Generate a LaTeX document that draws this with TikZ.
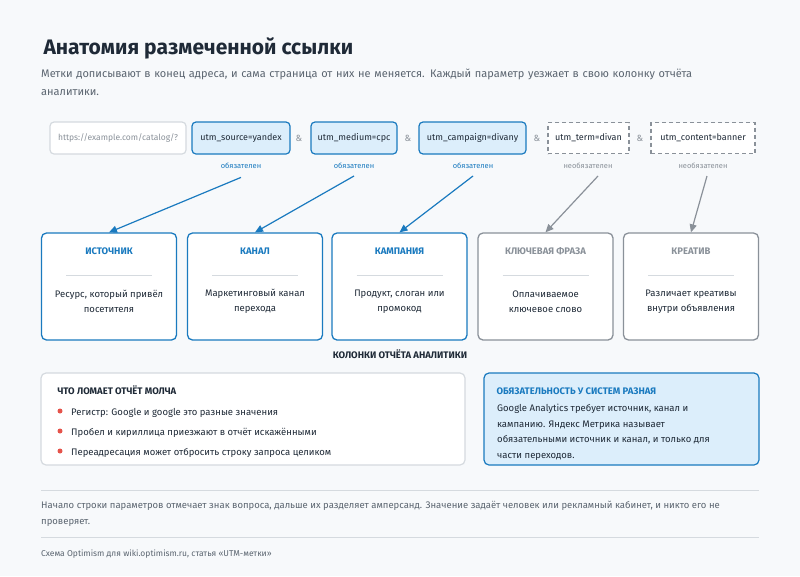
\documentclass[tikz,border=0pt]{standalone}
\usepackage{fontspec}
\setmainfont{Fira Sans}
\usetikzlibrary{arrows.meta}
\definecolor{bg}{HTML}{F7F9FB}
\definecolor{ink}{HTML}{1F2A37}
\definecolor{gr}{HTML}{5B6570}
\definecolor{bl}{HTML}{1A7ABF}
\definecolor{blf}{HTML}{DCEEFB}
\definecolor{gb}{HTML}{8A9199}
\definecolor{lb}{HTML}{D5DADF}
\definecolor{rd}{HTML}{E5534B}
\begin{document}
\begin{tikzpicture}[x=1pt,y=-1pt,
 req/.style={draw=bl,fill=blf,line width=1.2pt,rounded corners=4pt,font=\fontsize{9}{11}\selectfont,text=ink},
 opt/.style={draw=gb,fill=white,dashed,dash pattern=on 4pt off 3pt,line width=1.2pt,font=\fontsize{9}{11}\selectfont,text=ink},
 lab/.style={font=\fontsize{7.5}{9}\selectfont},
 amp/.style={font=\fontsize{9}{11}\selectfont,text=gb},
 arr/.style={-{Triangle[length=8pt,width=7pt]},line width=1.2pt},
 cat/.style={rounded corners=5pt,line width=1.3pt,fill=white},
 ttl/.style={font=\bfseries\fontsize{9.5}{11}\selectfont},
 body/.style={font=\fontsize{9.5}{15}\selectfont,text=ink,align=center}]
\fill[bg] (0,0) rectangle (800,576);
\node[anchor=base west,text=ink,font=\bfseries\fontsize{21}{25}\selectfont] (title) at (40,54) {Анатомия размеченной ссылки};
\node[anchor=base west,text=gr,font=\fontsize{11}{18}\selectfont,align=left,text width=730pt,inner sep=0] (sub) at (41,77) {Метки дописывают в конец адреса, и сама страница от них не меняется. Каждый параметр уезжает в свою колонку отчёта\\аналитики.};
% URL
\node[draw=lb,fill=white,line width=1.2pt,rounded corners=4pt,minimum width=136pt,minimum height=32pt,font=\fontsize{8.5}{10}\selectfont,text=gb] (u0) at (118,138) {https://example.com/catalog/?};
\node[req,minimum width=98pt,minimum height=32pt] (u1) at (241,138) {utm\_source=yandex};
\node[amp] (a1) at (299,138) {\&};
\node[req,minimum width=86pt,minimum height=32pt] (u2) at (354,138) {utm\_medium=cpc};
\node[amp] (a2) at (408,138) {\&};
\node[req,minimum width=107pt,minimum height=32pt] (u3) at (472.5,138) {utm\_campaign=divany};
\node[amp] (a3) at (537,138) {\&};
\node[opt,minimum width=81pt,minimum height=31pt] (u4) at (588.5,138) {utm\_term=divan};
\node[amp] (a4) at (640,138) {\&};
\node[opt,minimum width=104pt,minimum height=31pt] (u5) at (703,138) {utm\_content=banner};
\node[lab,text=bl] (l1) at (241,166) {обязателен};
\node[lab,text=bl] (l2) at (354,166) {обязателен};
\node[lab,text=bl] (l3) at (473,166) {обязателен};
\node[lab,text=gb] (l4) at (588,166) {необязателен};
\node[lab,text=gb] (l5) at (703,166) {необязателен};
% categories
\foreach \n/\x/\t/\b/\c in {c1/109/ИСТОЧНИК/{Ресурс, который привёл\\посетителя}/bl,
 c2/255/КАНАЛ/{Маркетинговый канал\\перехода}/bl,
 c3/399.5/КАМПАНИЯ/{Продукт, слоган или\\промокод}/bl,
 c4/545.5/КЛЮЧЕВАЯ ФРАЗА/{Оплачиваемое\\ключевое слово}/gb,
 c5/691/КРЕАТИВ/{Различает креативы\\внутри объявления}/gb}{
 \node[cat,draw=\c,minimum width=135pt,minimum height=107pt] (\n) at (\x,286.5) {};
 \node[ttl,text=\c] (\n t) at (\x,251) {\t};
 \draw[lb,line width=0.8pt] (\x-43,275) -- (\x+43,275);
 \node[body] (\n b) at (\x,301.5) {\b};
}
\draw[arr,bl] (l1.south) ++(0,5) coordinate (s1) -- (c1.north);
\draw[arr,bl] (354,176) coordinate (s2) -- (c2.north);
\draw[arr,bl] (473,176) coordinate (s3) -- (c3.north);
\draw[arr,gb] (598,176) coordinate (s4) -- (c4.north);
\draw[arr,gb] (707,176) coordinate (s5) -- (c5.north);
\node[ttl,text=ink] (cols) at (400,354) {КОЛОНКИ ОТЧЁТА АНАЛИТИКИ};
% bottom boxes
\node[draw=lb,fill=white,line width=1.2pt,rounded corners=5pt,minimum width=424pt,minimum height=92pt] (bx1) at (253,419) {};
\node[ttl,text=ink,anchor=base west] (bx1t) at (54,394) {ЧТО ЛОМАЕТ ОТЧЁТ МОЛЧА};
\foreach \y/\t in {415/{Регистр: Google и google это разные значения},435/{Пробел и кириллица приезжают в отчёт искажёнными},455/{Переадресация может отбросить строку запроса целиком}}{
 \fill[rd] (60,\y-4) circle (2.5pt);
 \node[anchor=base west,font=\fontsize{9.5}{11}\selectfont,text=ink,inner sep=0] at (71,\y) {\t};
}
\node[draw=bl,fill=blf,line width=1.2pt,rounded corners=5pt,minimum width=275pt,minimum height=92pt] (bx2) at (621.5,419) {};
\node[ttl,text=bl,anchor=base west] (bx2t) at (493,394) {ОБЯЗАТЕЛЬНОСТЬ У СИСТЕМ РАЗНАЯ};
\node[anchor=north west,font=\fontsize{9.5}{15.5}\selectfont,text=ink,align=left,inner sep=0] (bx2b) at (497,404) {Google Analytics требует источник, канал и\\кампанию. Яндекс Метрика называет\\обязательными источник и канал, и только для\\части переходов.};
% footer
\draw[lb,line width=0.8pt] (41,490) -- (759,490);
\node[anchor=north west,font=\fontsize{9.5}{16}\selectfont,text=gr,align=left,inner sep=0] (foot) at (41,501) {Начало строки параметров отмечает знак вопроса, дальше их разделяет амперсанд. Значение задаёт человек или рекламный кабинет, и никто его не\\проверяет.};
\draw[lb,line width=0.8pt] (41,537) -- (759,537);
\node[anchor=base west,font=\fontsize{8.5}{10}\selectfont,text=gr,inner sep=0] (src) at (41,556) {Схема Optimism для wiki.optimism.ru, статья «UTM-метки»};
\end{tikzpicture}
\end{document}
